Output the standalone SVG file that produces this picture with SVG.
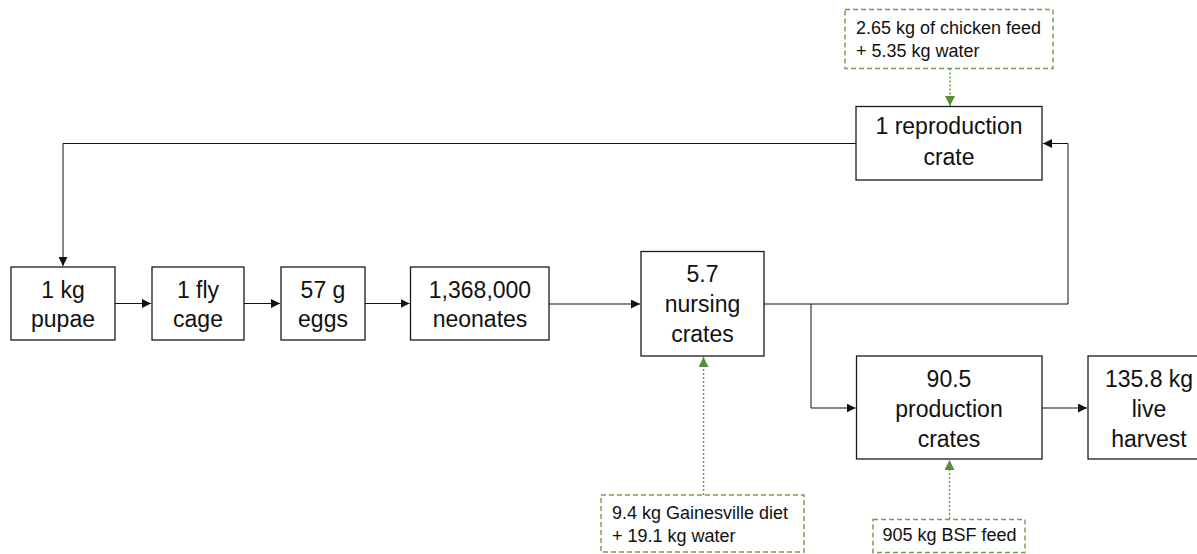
<svg xmlns="http://www.w3.org/2000/svg" width="1197" height="554" viewBox="0 0 1197 554">
<style>
.box{fill:#fff;stroke:#1a1a1a;stroke-width:1.3}
.ibox{fill:#fff;stroke:#6e9e4c;stroke-width:1.4;stroke-dasharray:5,3}
.t{font-family:"Liberation Sans",Arial,sans-serif;font-size:23px;fill:#111;text-anchor:middle}
.s{font-family:"Liberation Sans",Arial,sans-serif;font-size:18px;fill:#111}
.c{fill:none;stroke:#111;stroke-width:1}
.g{fill:none;stroke:#6e9e4c;stroke-width:1.5;stroke-dasharray:2,2}
</style>
<defs>
<marker id="a" viewBox="0 0 10 10" refX="10" refY="5" markerWidth="9" markerHeight="9" markerUnits="userSpaceOnUse" orient="auto"><path d="M0,0L10,5L0,10z" fill="#111"/></marker>
<marker id="ag" viewBox="0 0 10 10" refX="10" refY="5" markerWidth="10" markerHeight="10" markerUnits="userSpaceOnUse" orient="auto"><path d="M0,0L10,5L0,10z" fill="#5c8f3c"/></marker>
</defs>
<g id="connectors">
<path class="c" d="M856,143.5H63V266" marker-end="url(#a)"/>
<path class="c" d="M115,303.5H151" marker-end="url(#a)"/>
<path class="c" d="M244,303.5H280" marker-end="url(#a)"/>
<path class="c" d="M365,303.5H409.5" marker-end="url(#a)"/>
<path class="c" d="M549,304H640" marker-end="url(#a)"/>
<path class="c" d="M764,304H1068V143.5H1043" marker-end="url(#a)"/>
<path class="c" d="M811,304V408H855.5" marker-end="url(#a)"/>
<path class="c" d="M1042,408H1087" marker-end="url(#a)"/>
<path class="g" d="M950,68.5V106" marker-end="url(#ag)"/>
<path class="g" d="M703.5,495V357" marker-end="url(#ag)"/>
<path class="g" d="M949.5,519V460" marker-end="url(#ag)"/>
</g>
<g id="pupae"><rect class="box" x="11" y="267" width="104" height="73"/><text class="t" x="63" y="297.5">1 kg</text><text class="t" x="63" y="327">pupae</text></g>
<g id="flycage"><rect class="box" x="152" y="267" width="92" height="73"/><text class="t" x="198" y="297.5">1 fly</text><text class="t" x="198" y="327">cage</text></g>
<g id="eggs"><rect class="box" x="281" y="267" width="84" height="73"/><text class="t" x="323" y="297.5">57 g</text><text class="t" x="323" y="327">eggs</text></g>
<g id="neonates"><rect class="box" x="410.5" y="267" width="138.5" height="73"/><text class="t" x="480" y="297.5">1,368,000</text><text class="t" x="480" y="327">neonates</text></g>
<g id="nursing"><rect class="box" x="641" y="251.5" width="123" height="104.5"/><text class="t" x="702.5" y="281.5">5.7</text><text class="t" x="702.5" y="311.5">nursing</text><text class="t" x="702.5" y="341.5">crates</text></g>
<g id="reproduction"><rect class="box" x="856" y="106.5" width="186" height="73.5"/><text class="t" x="949" y="134">1 reproduction</text><text class="t" x="949" y="165">crate</text></g>
<g id="production"><rect class="box" x="856.5" y="356" width="185.5" height="103"/><text class="t" x="949" y="387">90.5</text><text class="t" x="949" y="417">production</text><text class="t" x="949" y="447">crates</text></g>
<g id="harvest"><rect class="box" x="1088" y="356" width="122" height="103"/><text class="t" x="1149" y="387">135.8 kg</text><text class="t" x="1149" y="417">live</text><text class="t" x="1149" y="447">harvest</text></g>
<g id="chickenfeed"><rect class="ibox" x="845" y="9.5" width="208" height="59"/><text class="s" x="856" y="34">2.65 kg of chicken feed</text><text class="s" x="856" y="56.5">+ 5.35 kg water</text></g>
<g id="gainesville"><rect class="ibox" x="601" y="495" width="203" height="57"/><text class="s" x="612" y="518.5">9.4 kg Gainesville diet</text><text class="s" x="612" y="541.5">+ 19.1 kg water</text></g>
<g id="bsf"><rect class="ibox" x="873" y="519.5" width="152" height="33"/><text class="s" x="882.5" y="541">905 kg BSF feed</text></g>
</svg>
